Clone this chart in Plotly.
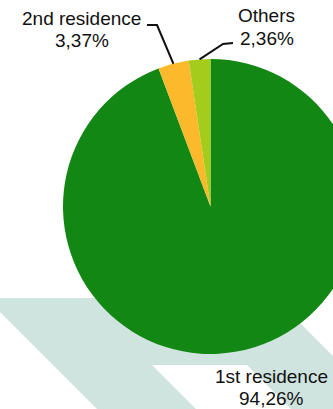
import math
import plotly.graph_objects as go

# ---- data ----
categories = ["1st residence", "2nd residence", "Others"]
values = [94.26, 3.37, 2.36]
value_labels = ["94,26%", "3,37%", "2,36%"]
colors = ["#138713", "#fbb92b", "#a4cc1c"]

# ---- layout geometry (pixels) ----
W, H = 420, 409
cx, cy, R = 210.5, 206.5, 147.5


def fx(p):
    return p / W


def fy(p):
    return 1 - p / H


fig = go.Figure(go.Pie(
    labels=categories,
    values=values,
    sort=False,
    direction="clockwise",
    rotation=0,
    textinfo="none",
    hoverinfo="skip",
    marker=dict(colors=colors, line=dict(width=0)),
    showlegend=False,
    domain=dict(x=[fx(cx - R), fx(cx + R)], y=[fy(cy + R), fy(cy - R)]),
))

# decorative background band
poly = [(-14, 298), (275, 298), (407, 430), (312, 430), (247, 365),
        (152, 365), (217, 430), (118, 430)]
path = "M " + " L ".join(f"{fx(x):.5f},{fy(y):.5f}" for x, y in poly) + " Z"
shapes = [dict(type="path", path=path, xref="paper", yref="paper",
               fillcolor="#cfe4de", line=dict(width=0), layer="below")]


# slice mid-angle edge points computed from data
def edge_point(i):
    total = sum(values)
    start = sum(values[:i])
    mid = (start + values[i] / 2) / total
    ang = 2 * math.pi * mid  # clockwise from 12 o'clock
    return cx + R * math.sin(ang), cy - R * math.cos(ang)


t2 = edge_point(1)
t3 = edge_point(2)
for pts in [[(147, 25), (157, 25), t2], [(233, 43), (223, 44), t3]]:
    p = "M " + " L ".join(f"{fx(x):.5f},{fy(y):.5f}" for x, y in pts)
    shapes.append(dict(type="path", path=p, xref="paper", yref="paper",
                       line=dict(color="#111111", width=2), layer="above"))

font = dict(family="Liberation Sans, Arial, sans-serif", size=19, color="#111111")
# (center x, baseline line 1, baseline line 2)
label_pos = [(271.5, 383, 405), (81.5, 25, 47), (266.5, 22, 45)]
annotations = []
for name, vl, (x, b1, b2) in zip(categories, value_labels, label_pos):
    for txt, b in ((name, b1), (vl, b2)):
        annotations.append(dict(
            text=txt, x=fx(x), y=fy(b - 6.5), xref="paper", yref="paper",
            showarrow=False, font=font, align="center",
            xanchor="center", yanchor="middle"))

fig.update_layout(
    width=W, height=H,
    margin=dict(l=0, r=0, t=0, b=0),
    paper_bgcolor="white",
    plot_bgcolor="white",
    shapes=shapes,
    annotations=annotations,
)

fig.write_html(
    "out.html",
    config={"displayModeBar": False},
    post_script="document.documentElement.style.overflow='hidden';"
                "document.body.style.margin='0';document.body.style.overflow='hidden';",
)
